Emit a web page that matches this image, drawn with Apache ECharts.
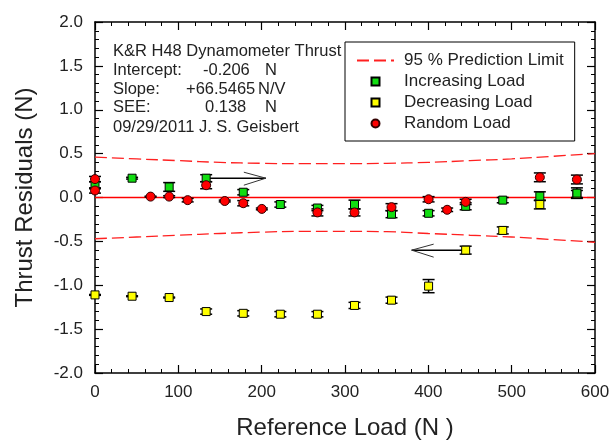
<!DOCTYPE html>
<html>
<head>
<meta charset="utf-8">
<title>Thrust Residuals</title>
<script src="https://cdn.jsdelivr.net/npm/echarts@6/dist/echarts.min.js"></script>
<style>
  html, body { margin: 0; padding: 0; background: #fff; }
  #chart { width: 616px; height: 441px; }
</style>
</head>
<body>
<div id="chart"></div>
<script>
// increasing load (N), residual (N), error bar half length (N)
var incLoad = [0, 44.5, 89, 133.4, 177.9, 222.4, 266.9, 311.4, 355.8, 400.3, 444.8, 489.3, 533.8, 578.3];
var incRes  = [0.14, 0.22, 0.12, 0.22, 0.06, -0.08, -0.12, -0.08, -0.19, -0.18, -0.10, -0.03, 0.015, 0.05];
var incErr  = [0.04, 0.01, 0.05, 0.04, 0.03, 0.03, 0.03, 0.05, 0.04, 0.03, 0.04, 0.03, 0.05, 0.06];

// decreasing load
var decLoad = [0, 44.5, 89, 133.4, 177.9, 222.4, 266.9, 311.4, 355.8, 400.3, 444.8, 489.3, 533.8, 578.3];
var decRes  = [-1.11, -1.125, -1.14, -1.30, -1.32, -1.33, -1.33, -1.23, -1.17, -1.01, -0.60, -0.375, -0.08, 0.04];
var decErr  = [0.005, 0.005, 0.005, 0.03, 0.03, 0.03, 0.03, 0.035, 0.035, 0.075, 0.045, 0.04, 0.05, 0.04];

// random load
var rndLoad = [0, 0, 66.7, 89, 111.2, 133.4, 155.7, 177.9, 200.2, 266.9, 311.4, 355.8, 400.3, 422.6, 444.8, 533.8, 578.3];
var rndRes  = [0.21, 0.08, 0.01, 0.01, -0.03, 0.14, -0.04, -0.065, -0.13, -0.17, -0.17, -0.11, -0.02, -0.14, -0.05, 0.23, 0.205];
var rndErr  = [0.03, 0.03, 0.005, 0.01, 0.02, 0.04, 0.01, 0.03, 0.01, 0.04, 0.04, 0.04, 0.03, 0.02, 0.03, 0.05, 0.05];

// 95 % prediction limits
var limLoad  = [0, 50, 100, 150, 200, 250, 300, 350, 400, 450, 500, 550, 600];
var limUpper = [0.46, 0.44, 0.42, 0.40, 0.39, 0.385, 0.385, 0.39, 0.40, 0.42, 0.44, 0.47, 0.50];
var limLower = [-0.47, -0.45, -0.43, -0.41, -0.395, -0.385, -0.385, -0.39, -0.41, -0.43, -0.45, -0.48, -0.51];

// zero residual line
var zeroLoad = [0, 600];
var zeroRes  = [0, 0];

// arrows: [fromLoad, fromRes, toLoad, toRes]
var arrows = [[133.4, 0.22, 205, 0.22], [444.8, -0.60, 380, -0.60]];

// axis ticks
var xTicks = [0, 100, 200, 300, 400, 500, 600];
var yTicks = [-2.0, -1.5, -1.0, -0.5, 0.0, 0.5, 1.0, 1.5, 2.0];

var noteLines = [
    ['K&R H48 Dynamometer Thrust'],
    ['Intercept:', '-0.206', 'N'],
    ['Slope:', '+66.5465', 'N/V'],
    ['SEE:', '0.138', 'N'],
    ['09/29/2011 J. S. Geisbert']
];

var FONT = '"Liberation Sans", Arial, sans-serif';
var TXT = '#222';
var SQUARE = 'path://M0 0H10V10H0Z';

function zip(xs, ys) {
    return xs.map(function(x, i) { return [x, ys[i]]; });
}
function zip3(xs, ys, es) {
    return xs.map(function(x, i) { return [x, ys[i], es[i]]; });
}

// vertical error bar with caps
function renderErr(params, api) {
    var x = api.value(0), y = api.value(1), e = api.value(2);
    var top = api.coord([x, y + e]);
    var bot = api.coord([x, y - e]);
    var c = 6;
    var st = { stroke: '#000', lineWidth: 1.5 };
    return {
        type: 'group',
        children: [
            { type: 'line', shape: { x1: top[0], y1: top[1], x2: bot[0], y2: bot[1] }, style: st },
            { type: 'line', shape: { x1: top[0] - c, y1: top[1], x2: top[0] + c, y2: top[1] }, style: st },
            { type: 'line', shape: { x1: bot[0] - c, y1: bot[1], x2: bot[0] + c, y2: bot[1] }, style: st }
        ]
    };
}

// arrow with open head
function renderArrow(params, api) {
    var p1 = api.coord([api.value(0), api.value(1)]);
    var p2 = api.coord([api.value(2), api.value(3)]);
    var dir = p2[0] > p1[0] ? 1 : -1;
    var hx = p2[0] - dir * 22;
    var headStyle = { stroke: '#333', lineWidth: 1 };
    return {
        type: 'group',
        children: [
            { type: 'line', shape: { x1: p1[0], y1: p1[1], x2: p2[0], y2: p2[1] }, style: { stroke: '#000', lineWidth: 1.5 } },
            { type: 'line', shape: { x1: hx, y1: p2[1] - 6, x2: p2[0], y2: p2[1] }, style: headStyle },
            { type: 'line', shape: { x1: hx, y1: p2[1] + 7, x2: p2[0], y2: p2[1] }, style: headStyle }
        ]
    };
}

// note text block in the upper left
var noteX = [113, [203, 186, 205], [265, 258, 265]];
var noteY = [52, 71, 89.5, 108, 127.5];
var graphics = [];
noteLines.forEach(function(line, i) {
    line.forEach(function(s, j) {
        var x = j === 0 ? noteX[0] : noteX[j][i - 1];
        graphics.push({
            type: 'text', left: x, top: noteY[i] - 9, z: 1,
            style: { text: s, fill: TXT, font: '16.5px ' + FONT }
        });
    });
});

function makeAxis(extra) {
    return Object.assign({
        axisLine: { show: true, onZero: false, lineStyle: { color: '#000', width: 1.5 } },
        axisTick: { show: true, inside: true, length: 8, lineStyle: { color: '#000', width: 1.2 } },
        minorTick: { show: true, splitNumber: 5, length: 4, lineStyle: { color: '#000', width: 1 } },
        splitLine: { show: false },
        minorSplitLine: { show: false }
    }, extra);
}

var option = {
    animation: false,
    backgroundColor: '#fff',
    textStyle: { fontFamily: FONT },
    grid: { left: 95, right: 21, top: 22, bottom: 68, outerBoundsMode: 'none' },
    legend: {
        orient: 'vertical',
        left: 345, top: 42,
        padding: [10, 11, 9, 11],
        backgroundColor: '#fff',
        borderColor: '#000',
        borderWidth: 1,
        borderRadius: 0,
        itemWidth: 37, itemHeight: 8, itemGap: 4,
        selectedMode: false,
        symbolKeepAspect: true,
        z: 20,
        textStyle: { fontSize: 17, lineHeight: 17, color: TXT, fontFamily: FONT, padding: [0, 0, 0, 5] },
        data: [
            { name: '95 % Prediction Limit', itemStyle: { color: 'rgba(0,0,0,0)', borderWidth: 0, opacity: 0 } },
            { name: 'Increasing Load', icon: SQUARE },
            { name: 'Decreasing Load', icon: SQUARE },
            { name: 'Random Load', icon: 'circle' }
        ]
    },
    graphic: graphics,
    xAxis: [
        makeAxis({
            type: 'value', min: xTicks[0], max: xTicks[xTicks.length - 1], interval: 100,
            position: 'bottom',
            name: 'Reference Load (N )', nameLocation: 'middle', nameGap: 43,
            nameTextStyle: { fontSize: 24, color: TXT, fontFamily: FONT },
            axisLabel: { fontSize: 17, color: TXT, margin: 11, fontFamily: FONT }
        }),
        makeAxis({
            type: 'value', min: xTicks[0], max: xTicks[xTicks.length - 1], interval: 100,
            position: 'top', axisLabel: { show: false }
        })
    ],
    yAxis: [
        makeAxis({
            type: 'value', min: yTicks[0], max: yTicks[yTicks.length - 1], interval: 0.5,
            position: 'left',
            name: 'Thrust Residuals (N)', nameLocation: 'middle', nameGap: 58,
            nameTextStyle: { fontSize: 24, color: TXT, fontFamily: FONT },
            axisLabel: {
                fontSize: 17, color: TXT, margin: 12, fontFamily: FONT,
                formatter: function(v) { return v.toFixed(1); }
            }
        }),
        makeAxis({
            type: 'value', min: yTicks[0], max: yTicks[yTicks.length - 1], interval: 0.5,
            position: 'right', axisLabel: { show: false }
        })
    ],
    series: [
        {
            name: 'zero', type: 'line', showSymbol: false, symbol: 'none', silent: true,
            data: zip(zeroLoad, zeroRes), z: 10,
            itemStyle: { color: '#ff0000' },
            lineStyle: { color: '#ff0000', width: 1.5, type: 'solid', opacity: 1 }
        },
        {
            name: '95 % Prediction Limit', type: 'line', smooth: true, showSymbol: false, symbol: 'none',
            data: zip(limLoad, limUpper), z: 2,
            itemStyle: { color: '#ff2020' },
            lineStyle: { color: '#ff2020', width: 1.3, type: [12, 5] }
        },
        {
            name: '95 % Prediction Limit', type: 'line', smooth: true, showSymbol: false, symbol: 'none',
            data: zip(limLoad, limLower), z: 2,
            itemStyle: { color: '#ff2020' },
            lineStyle: { color: '#ff2020', width: 1.3, type: [12, 5] }
        },
        {
            type: 'custom', name: 'arrows', renderItem: renderArrow, z: 3,
            encode: { x: [0, 2], y: [1, 3] }, data: arrows
        },
        {
            type: 'custom', name: 'decErr', renderItem: renderErr, z: 11,
            encode: { x: 0, y: 1 }, data: zip3(decLoad, decRes, decErr)
        },
        {
            type: 'custom', name: 'incErr', renderItem: renderErr, z: 11,
            encode: { x: 0, y: 1 }, data: zip3(incLoad, incRes, incErr)
        },
        {
            type: 'custom', name: 'rndErr', renderItem: renderErr, z: 11,
            encode: { x: 0, y: 1 }, data: zip3(rndLoad, rndRes, rndErr)
        },
        {
            name: 'Decreasing Load', type: 'scatter', symbol: 'rect', symbolSize: 8, z: 12,
            data: zip(decLoad, decRes),
            itemStyle: { color: '#ffff00', borderColor: '#000', borderWidth: 1, opacity: 1 }
        },
        {
            name: 'Increasing Load', type: 'scatter', symbol: 'rect', symbolSize: 8, z: 13,
            data: zip(incLoad, incRes),
            itemStyle: { color: '#11dd11', borderColor: '#000', borderWidth: 1, opacity: 1 }
        },
        {
            name: 'Random Load', type: 'scatter', symbol: 'circle', symbolSize: 9, z: 14,
            data: zip(rndLoad, rndRes),
            itemStyle: { color: '#ff0000', borderColor: '#300', borderWidth: 1, opacity: 1 }
        }
    ]
};

var chart = echarts.init(document.getElementById('chart'), null, { renderer: 'canvas' });
chart.setOption(option);
</script>
</body>
</html>
